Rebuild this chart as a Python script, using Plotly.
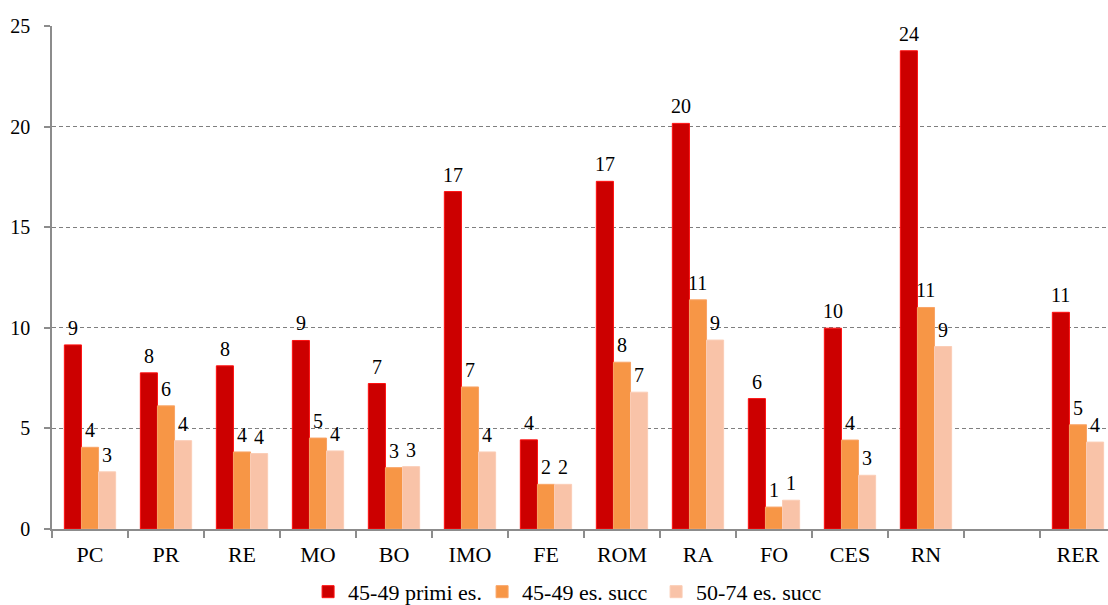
import plotly.graph_objects as go

# Districts (empty slot before the regional total)
categories = ["PC", "PR", "RE", "MO", "BO", "IMO", "FE", "ROM", "RA", "FO", "CES", "RN", "", "RER"]

series_names = ["45-49 primi es.", "45-49 es. succ", "50-74 es. succ"]

primi_45_49 = [9.15, 7.76, 8.11, 9.37, 7.23, 16.77, 4.43, 17.28, 20.16, 6.48, 9.98, 23.77, None, 10.77]
succ_45_49 = [4.06, 6.12, 3.83, 4.52, 3.05, 7.06, 2.22, 8.29, 11.39, 1.09, 4.42, 11.01, None, 5.18]
succ_50_74 = [2.84, 4.39, 3.75, 3.88, 3.10, 3.83, 2.22, 6.80, 9.39, 1.43, 2.67, 9.07, None, 4.32]

y_ticks = [0, 5, 10, 15, 20, 25]

fills = ["#CC0000", "#F79646", "#F9C3A8"]
edges = ["#FF1010", "#F9A466", "#FBCDB6"]

FONT = "'Liberation Serif', 'Times New Roman', 'DejaVu Serif', serif"
BARGAP = 0.325
N_SERIES = 3
bar_w = (1 - BARGAP) / N_SERIES

x_idx = list(range(len(categories)))
all_series = [primi_45_49, succ_45_49, succ_50_74]

fig = go.Figure()
annotations = []
for s, (name, vals) in enumerate(zip(series_names, all_series)):
    fig.add_trace(go.Bar(
        x=x_idx,
        y=vals,
        name=name,
        marker=dict(color=fills[s], line=dict(color=edges[s], width=1)),
    ))
    offset = (s - (N_SERIES - 1) / 2) * bar_w
    for j, v in zip(x_idx, vals):
        if v is None:
            continue
        annotations.append(dict(
            x=j + offset, y=v, xref="x", yref="y",
            text=f"{v:.0f}", showarrow=False,
            yanchor="bottom", yshift=4,
            font=dict(family=FONT, size=20, color="#000000"),
        ))

fig.update_layout(
    width=1108, height=605,
    margin=dict(l=52, r=0, t=26, b=76, autoexpand=False),
    paper_bgcolor="white", plot_bgcolor="white",
    barmode="group", bargap=BARGAP, bargroupgap=0,
    font=dict(family=FONT, size=20, color="#000000"),
    annotations=annotations,
    showlegend=True,
    legend=dict(
        orientation="h", x=0.2425, xanchor="left", y=-0.125, yanchor="middle",
        font=dict(family=FONT, size=22, color="#000000"),
        entrywidth=129, entrywidthmode="pixels",
        itemclick=False, traceorder="normal",
    ),
)

fig.update_xaxes(
    range=[-0.5, 13.395], automargin=False,
    tickmode="array", tickvals=x_idx, ticktext=categories,
    ticks="", showgrid=False, zeroline=False, ticklabelstandoff=5,
    showline=True, linecolor="#8C8C8C", linewidth=1.5,
    tickfont=dict(family=FONT, size=22, color="#000000"),
    minor=dict(tickmode="array", tickvals=[j - 0.5 for j in x_idx] + [len(categories) - 0.5],
               ticks="outside", ticklen=7, tickcolor="#8C8C8C", tickwidth=1.5, showgrid=False),
)

fig.update_yaxes(
    range=[0, 25], tickmode="array", tickvals=y_ticks, automargin=False,
    ticks="outside", ticklen=6, tickcolor="#8C8C8C", tickwidth=1.5,
    showline=True, linecolor="#8C8C8C", linewidth=1.5,
    showgrid=True, gridcolor="#7F7F7F", gridwidth=1, griddash="4px,3px",
    zeroline=False, ticklabelstandoff=10,
    tickfont=dict(family=FONT, size=20, color="#000000"),
)

fig.write_html("out.html")
